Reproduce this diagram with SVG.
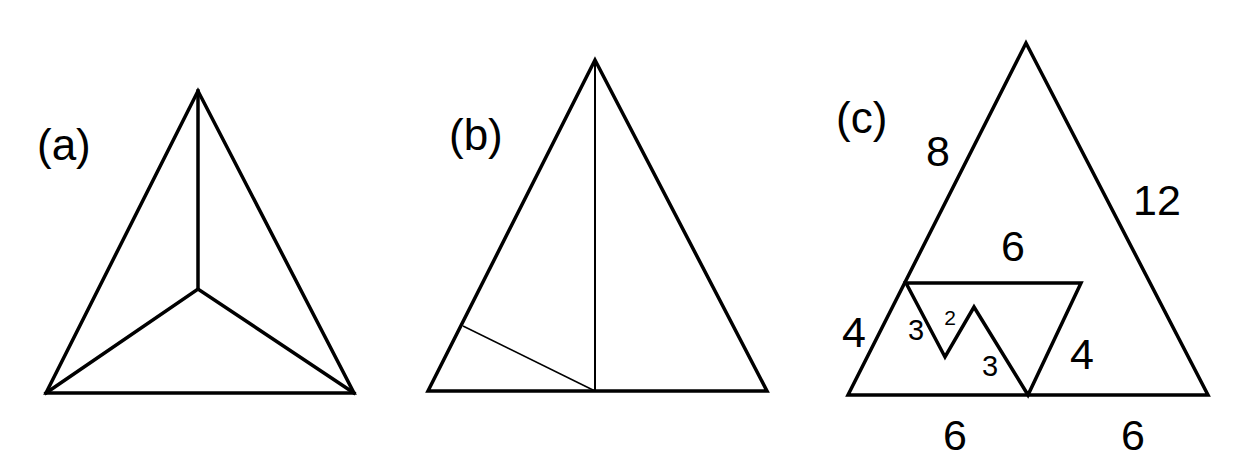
<svg xmlns="http://www.w3.org/2000/svg" width="1252" height="476" viewBox="0 0 1252 476">
<style>
.s{fill:none;stroke:#000;stroke-width:3.5;stroke-linejoin:miter;stroke-linecap:square}
.t{fill:none;stroke:#000;stroke-width:2}
.th{fill:none;stroke:#000;stroke-width:1.5}
text{font-family:"Liberation Sans",Arial,sans-serif;fill:#000}
.lab{font-size:44px}
.big{font-size:43px;text-anchor:middle}
.mid{font-size:29px;text-anchor:middle}
.sm{font-size:21px;text-anchor:middle}
</style>
<rect width="1252" height="476" fill="#fff"/>
<g id="a">
<polygon class="s" points="198,91 46,393 354,393"/>
<polyline class="s" points="198,91 198,289"/>
<polyline class="s" points="46,393 198,289 354,393"/>
<text class="lab" x="37" y="160">(a)</text>
</g>
<g id="b">
<polygon class="s" points="595,60 428,391 767,391"/>
<line class="t" x1="595" y1="60" x2="595" y2="391"/>
<line class="th" x1="463" y1="326" x2="595" y2="391"/>
<text class="lab" x="449" y="150">(b)</text>
</g>
<g id="c">
<polygon class="s" points="1026,43 848,395 1208,395"/>
<polygon class="s" points="906,283 1081,283 1028,395 974,307 945,357"/>
<text class="lab" x="836" y="133">(c)</text>
<text class="big" x="938" y="166">8</text>
<text class="big" x="1157" y="215">12</text>
<text class="big" x="1013" y="261">6</text>
<text class="big" x="854" y="347">4</text>
<text class="big" x="1082" y="369">4</text>
<text class="big" x="955" y="450">6</text>
<text class="big" x="1133" y="450">6</text>
<text class="mid" x="916" y="340">3</text>
<text class="sm" x="950" y="325">2</text>
<text class="mid" x="990" y="376">3</text>
</g>
</svg>
